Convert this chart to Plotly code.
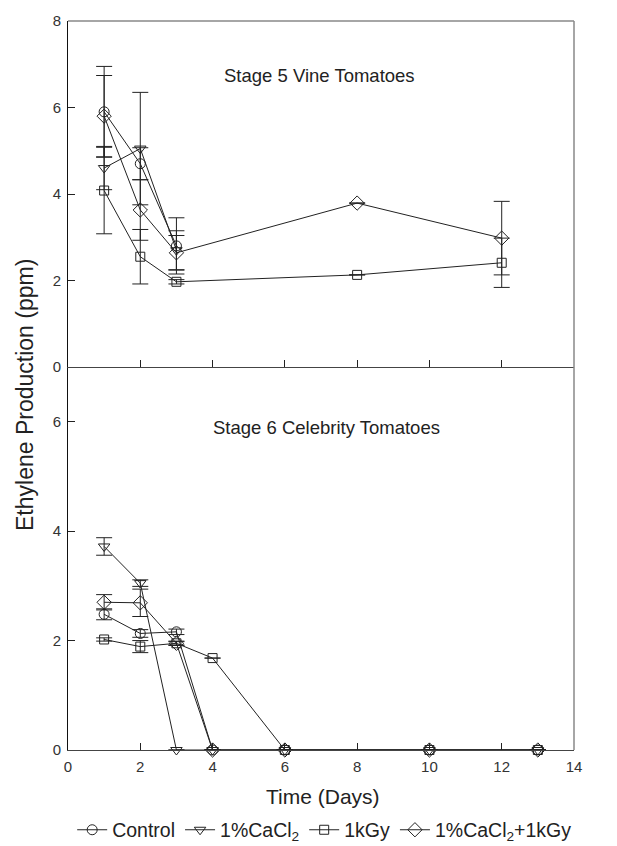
import plotly.graph_objects as go

# ---------------- data ----------------
series_names = ["Control", "1%CaCl<sub>2</sub>", "1kGy", "1%CaCl<sub>2</sub>+1kGy"]
symbols = ["circle-open", "triangle-down-open", "square-open", "diamond-open"]

# Stage 5 Vine Tomatoes
s5_days_short = [1, 2, 3]
s5_days_long = [1, 2, 3, 8, 12]
s5_ctrl = [5.90, 4.70, 2.80]
s5_ctrl_err = [1.05, 0.37, 0.65]
s5_cacl = [4.60, 5.05, 2.70]
s5_cacl_err = [0.50, 1.30, 0.45]
s5_kgy = [4.08, 2.55, 1.97, 2.13, 2.41]
s5_kgy_err = [1.00, 0.63, 0.05, 0.0, 0.57]
s5_combo = [5.80, 3.63, 2.64, 3.79, 2.98]
s5_combo_err = [0.94, 0.70, 0.40, 0.0, 0.85]

# Stage 6 Celebrity Tomatoes
s6_days = [1, 2, 3, 4, 6, 10, 13]
s6_ctrl = [2.48, 2.13, 2.16, 0, 0, 0, 0]
s6_ctrl_err = [0.10, 0.07, 0.05, 0, 0, 0, 0]
s6_cacl = [3.72, 3.05, 0, 0, 0, 0, 0]
s6_cacl_err = [0.16, 0.06, 0, 0, 0, 0, 0]
s6_kgy = [2.02, 1.89, 1.95, 1.68, 0, 0, 0]
s6_kgy_err = [0.03, 0.11, 0.03, 0, 0, 0, 0]
s6_combo = [2.70, 2.69, 1.95, 0, 0, 0, 0]
s6_combo_err = [0.14, 0.25, 0.04, 0, 0, 0, 0]

x_ticks = [0, 2, 4, 6, 8, 10, 12, 14]
top_yticks = [0, 2, 4, 6, 8]
bot_yticks = [0, 2, 4, 6]

FONT = "Liberation Sans, Arial, sans-serif"
LINE = "#222222"

fig = go.Figure()

top_sets = [
    (s5_days_short, s5_ctrl, s5_ctrl_err),
    (s5_days_short, s5_cacl, s5_cacl_err),
    (s5_days_long, s5_kgy, s5_kgy_err),
    (s5_days_long, s5_combo, s5_combo_err),
]
bot_sets = [
    (s6_days, s6_ctrl, s6_ctrl_err),
    (s6_days, s6_cacl, s6_cacl_err),
    (s6_days, s6_kgy, s6_kgy_err),
    (s6_days, s6_combo, s6_combo_err),
]
msizes = [10, 10, 9, 11]

for i, (xs, ys, es) in enumerate(top_sets):
    fig.add_trace(go.Scatter(
        x=xs, y=ys, mode="lines+markers", name=series_names[i],
        legendgroup=str(i), showlegend=True,
        line=dict(color=LINE, width=1),
        marker=dict(symbol=symbols[i], size=msizes[i], color=LINE, line=dict(color=LINE, width=1)),
        error_y=dict(type="data", array=es, visible=True, color=LINE, thickness=1, width=8),
        xaxis="x2", yaxis="y2", cliponaxis=False,
    ))
for i, (xs, ys, es) in enumerate(bot_sets):
    fig.add_trace(go.Scatter(
        x=xs, y=ys, mode="lines+markers", name=series_names[i],
        legendgroup=str(i), showlegend=False,
        line=dict(color=LINE, width=1),
        marker=dict(symbol=symbols[i], size=msizes[i], color=LINE, line=dict(color=LINE, width=1)),
        error_y=dict(type="data", array=es, visible=True, color=LINE, thickness=1, width=8),
        xaxis="x", yaxis="y", cliponaxis=False,
    ))

split = 383 / 729

axis_common = dict(showgrid=False, zeroline=False, ticks="inside", ticklen=7,
                   tickcolor="#222", ticklabelstandoff=3,
                   tickfont=dict(family=FONT, size=15, color="#333"))

# page has an 8px body margin: shrink figure so plot area lands at x 68..574, y 21..750
fig.update_layout(
    width=609, height=838,
    margin=dict(l=60, r=43, t=13, b=96, autoexpand=False),
    paper_bgcolor="white", plot_bgcolor="white",
    font=dict(family=FONT, color="#222"),
    xaxis=dict(domain=[0, 1], range=[0, 14], tickvals=x_ticks, anchor="y",
               showline=True, linecolor="#444", linewidth=1, **axis_common),
    yaxis=dict(domain=[0, split], range=[0, 7], tickvals=bot_yticks, anchor="x",
               showline=True, linecolor="#111", linewidth=1, **axis_common),
    xaxis2=dict(domain=[0, 1], range=[0, 14], tickvals=x_ticks, anchor="y2",
                showticklabels=False, showline=True, linecolor="#444", linewidth=1, **axis_common),
    yaxis2=dict(domain=[split, 1], range=[0, 8], tickvals=top_yticks, anchor="x2",
                showline=True, linecolor="#111", linewidth=1, **axis_common),
    showlegend=True,
    legend=dict(orientation="h", xref="container", yref="container",
                x=0.52, xanchor="center", y=0.019, yanchor="middle",
                font=dict(family=FONT, size=19.5, color="#222"), itemwidth=30,
                tracegroupgap=0, bgcolor="rgba(0,0,0,0)"),
)

# gray right / top frame
fig.add_shape(type="line", xref="paper", yref="paper", x0=1, x1=1, y0=0, y1=1,
              line=dict(color="#888", width=1.5))
fig.add_shape(type="line", xref="paper", yref="paper", x0=0, x1=1, y0=1, y1=1,
              line=dict(color="#888", width=1.5))

def ann(text, px_x, px_y, size, angle=0):
    fig.add_annotation(text=text, xref="paper", yref="paper",
                       x=(px_x - 68) / 506, y=(750 - px_y) / 729,
                       xanchor="center", yanchor="middle", showarrow=False,
                       textangle=angle, font=dict(family=FONT, size=size, color="#222"))

ann("Stage 5 Vine Tomatoes", 319, 76, 18.5)
ann("Stage 6 Celebrity Tomatoes", 326, 428, 18.5)
ann("Time (Days)", 323, 796, 21)
ann("Ethylene Production (ppm)", 25, 395, 23, -90)

fig.write_html("out.html")
